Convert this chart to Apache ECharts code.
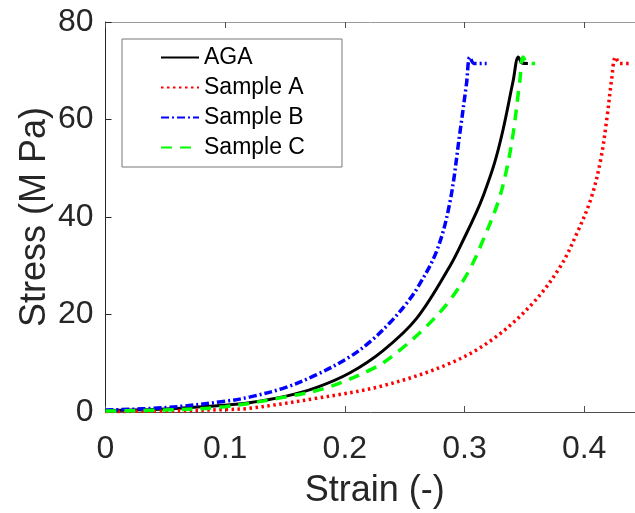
<!DOCTYPE html>
<html>
<head>
<meta charset="utf-8">
<script src="https://cdn.jsdelivr.net/npm/echarts@6/dist/echarts.min.js"></script>
<style>
  html, body { margin: 0; padding: 0; background: #fff; }
  #main { width: 635px; height: 513px; }
</style>
</head>
<body>
<div id="main"></div>
<script>
// 读图得到的数据 (strain, stress)
const names = ['AGA', 'Sample A', 'Sample B', 'Sample C'];

const agaStrain = [0, 0.05, 0.1, 0.12, 0.15, 0.176, 0.204, 0.232, 0.26, 0.288, 0.3, 0.31, 0.3156, 0.325, 0.3323, 0.3407, 0.345, 0.348, 0.353];
const agaStress = [0.3, 0.6, 1.4, 1.9, 3.2, 5.0, 8.0, 12.6, 19.2, 30, 35.8, 41, 44.3, 51, 58, 68, 72.8, 71.6, 71.5];

const aStrain = [0, 0.05, 0.1, 0.12, 0.176, 0.232, 0.288, 0.324, 0.357, 0.38, 0.394, 0.406, 0.414, 0.4192, 0.4229, 0.4262, 0.43, 0.438];
const aStress = [0.1, 0.2, 0.5, 0.75, 2.8, 5.4, 10, 15, 22.3, 29.8, 36.7, 44, 52, 60.6, 68.1, 72.8, 71.5, 71.5];

const bStrain = [0, 0.05, 0.1, 0.121, 0.15, 0.176, 0.204, 0.222, 0.238, 0.25, 0.26, 0.2767, 0.2878, 0.296, 0.3017, 0.3045, 0.308, 0.3185];
const bStress = [0.4, 0.9, 2.2, 3.1, 5, 7.6, 11.3, 14.6, 18.4, 21.8, 25.2, 33, 43, 57, 67.4, 72.8, 71.5, 71.5];

const cStrain = [0, 0.05, 0.1, 0.1485, 0.185, 0.2266, 0.246, 0.268, 0.288, 0.304, 0.3156, 0.328, 0.335, 0.3407, 0.3463, 0.349, 0.353, 0.359];
const cStress = [0.2, 0.4, 1.1, 3.0, 5.0, 9.3, 12.7, 17.5, 23, 29.1, 35.3, 43, 49.5, 57.2, 68.1, 72.8, 71.5, 71.5];

const xTicks = [0, 0.1, 0.2, 0.3, 0.4];
const yTicks = [0, 20, 40, 60, 80];

function pairs(xs, ys) {
  return xs.map(function (x, i) { return [x, ys[i]]; });
}

const font = '"Liberation Sans", Arial, Helvetica, sans-serif';
const ink = '#262626';

let chart = echarts.init(document.getElementById('main'), null, { renderer: 'canvas' });

function lineSeries(name, xs, ys, color, width, type) {
  return {
    name: name,
    type: 'line',
    xAxisIndex: 0,
    symbol: 'none',
    showSymbol: false,
    smooth: 0.35,
    data: pairs(xs, ys),
    lineStyle: { color: color, width: width, type: type, cap: 'butt' },
    itemStyle: { color: color },
    z: 3
  };
}

let option = {
  backgroundColor: '#fff',
  animation: false,
  grid: { left: 105.5, top: 22, right: -9, bottom: 101, containLabel: false, outerBoundsMode: 'none' },
  legend: {
    data: names,
    orient: 'vertical',
    left: 122,
    top: 39,
    padding: [7, 37, 8, 38],
    itemWidth: 38,
    itemHeight: 14,
    itemGap: 7,
    borderColor: '#777',
    borderWidth: 1,
    backgroundColor: '#fff',
    itemStyle: { opacity: 0, borderWidth: 0 },
    textStyle: { fontFamily: font, fontSize: 23, color: '#000' }
  },
  xAxis: [{
    type: 'value',
    min: xTicks[0],
    max: 0.45,
    interval: 0.1,
    name: 'Strain (-)',
    nameLocation: 'middle',
    nameGap: 61,
    nameMoveOverlap: false,
    nameTextStyle: { fontFamily: font, fontSize: 36, color: ink },
    axisLine: { lineStyle: { color: '#4d4d4d', width: 1 } },
    axisTick: { inside: true, length: 6, lineStyle: { color: '#4d4d4d' } },
    axisLabel: { fontFamily: font, fontSize: 32, color: ink, margin: 21, showMaxLabel: false },
    splitLine: { show: false }
  }, {
    type: 'value',
    position: 'top',
    min: xTicks[0],
    max: 0.45,
    interval: 0.1,
    axisLine: { show: true, onZero: false, lineStyle: { color: '#999', width: 1 } },
    axisTick: { show: true, inside: true, length: 6, lineStyle: { color: '#4d4d4d' } },
    axisLabel: { show: false },
    splitLine: { show: false }
  }],
  yAxis: {
    type: 'value',
    min: yTicks[0],
    max: yTicks[yTicks.length - 1],
    interval: 20,
    name: 'Stress (M Pa)',
    nameLocation: 'middle',
    nameGap: 52,
    nameMoveOverlap: false,
    nameTextStyle: { fontFamily: font, fontSize: 36, color: ink },
    axisLine: { show: true, lineStyle: { color: '#262626', width: 1 } },
    axisTick: { show: true, inside: true, length: 6, lineStyle: { color: '#262626' } },
    axisLabel: { fontFamily: font, fontSize: 32, color: ink, margin: 12 },
    splitLine: { show: false }
  },
  series: [
    lineSeries(names[0], agaStrain, agaStress, '#000000', 3, 'solid'),
    lineSeries(names[1], aStrain, aStress, '#ff0000', 3.5, [2.5, 3.5]),
    lineSeries(names[2], bStrain, bStress, '#0000ff', 3.5, [8, 3, 2, 3]),
    lineSeries(names[3], cStrain, cStress, '#00ff00', 3.5, [11, 8])
  ]
};

chart.setOption(option);
</script>
</body>
</html>
